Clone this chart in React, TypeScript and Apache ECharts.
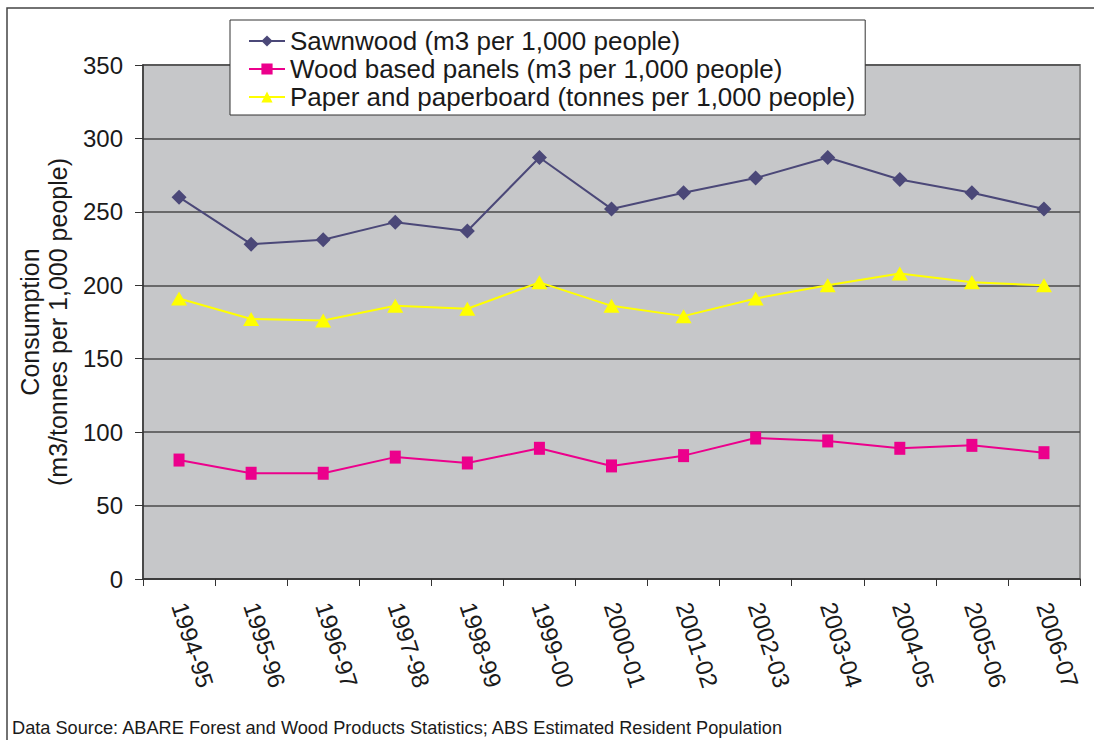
import React, { useEffect, useRef } from "react";
import * as echarts from "echarts";

const categories = [
  "1994-95", "1995-96", "1996-97", "1997-98", "1998-99", "1999-00", "2000-01",
  "2001-02", "2002-03", "2003-04", "2004-05", "2005-06", "2006-07",
];
const sawnwood = [260, 228, 231, 243, 237, 287, 252, 263, 273, 287, 272, 263, 252];
const panels = [81, 72, 72, 83, 79, 89, 77, 84, 96, 94, 89, 91, 86];
const paper = [191, 177, 176, 186, 184, 202, 186, 179, 191, 200, 208, 202, 200];
const yTicks = { min: 0, max: 350, interval: 50 };
const seriesNames = [
  "Sawnwood (m3 per 1,000 people)",
  "Wood based panels (m3 per 1,000 people)",
  "Paper and paperboard (tonnes per 1,000 people)",
];
const footer = "Data Source: ABARE Forest and Wood Products Statistics; ABS Estimated Resident Population";

const FONT = "'Liberation Sans', Arial, sans-serif";

export default function App() {
  const ref = useRef<HTMLDivElement>(null);
  useEffect(() => {
    document.body.style.margin = "0";
    const chart = echarts.init(ref.current!, null, { renderer: "svg" });
    chart.setOption({
      animation: false,
      textStyle: { fontFamily: FONT, color: "#1a1a1a" },
      grid: {
        left: 143,
        right: 14,
        top: 65,
        bottom: 161,
        show: true,
        backgroundColor: "#c6c7c9",
        borderColor: "#8c8c8c",
        borderWidth: 2,
      },
      legend: {
        orient: "vertical",
        left: 230,
        top: 20,
        padding: [8, 10, 5, 18],
        itemGap: 2,
        itemWidth: 36,
        itemHeight: 14,
        backgroundColor: "#ffffff",
        borderColor: "#333333",
        borderWidth: 1,
        textStyle: { fontSize: 26, lineHeight: 26, color: "#1a1a1a", fontFamily: FONT },
        data: seriesNames,
      },
      xAxis: {
        type: "category",
        data: categories,
        boundaryGap: true,
        axisLine: { lineStyle: { color: "#333", width: 1.5 } },
        axisTick: { show: true, length: 7, alignWithLabel: false, lineStyle: { color: "#333" } },
        axisLabel: {
          rotate: -72,
          fontSize: 24,
          color: "#1a1a1a",
          margin: 24,
          interval: 0,
          fontFamily: FONT,
        },
      },
      yAxis: {
        type: "value",
        min: yTicks.min,
        max: yTicks.max,
        interval: yTicks.interval,
        name: "Consumption\n(m3/tonnes per 1,000 people)",
        nameLocation: "middle",
        nameGap: 71,
        nameTextStyle: { fontSize: 25, lineHeight: 28, color: "#1a1a1a", fontFamily: FONT },
        axisLine: { show: true, lineStyle: { color: "#333", width: 1.5 } },
        axisTick: { show: true, length: 8, lineStyle: { color: "#333" } },
        axisLabel: { fontSize: 24, color: "#1a1a1a", margin: 20, fontFamily: FONT },
        splitLine: { show: true, lineStyle: { color: "#4a4a4a", width: 1.5 } },
      },
      series: [
        {
          name: seriesNames[0],
          type: "line",
          data: sawnwood,
          symbol: "diamond",
          symbolSize: 15,
          lineStyle: { color: "#4b4878", width: 2 },
          itemStyle: { color: "#4b4878" },
        },
        {
          name: seriesNames[1],
          type: "line",
          data: panels,
          symbol: "rect",
          symbolSize: [11, 13],
          lineStyle: { color: "#ec008c", width: 2 },
          itemStyle: { color: "#ec008c" },
        },
        {
          name: seriesNames[2],
          type: "line",
          data: paper,
          symbol: "triangle",
          symbolSize: [16, 14],
          lineStyle: { color: "#ffff00", width: 2 },
          itemStyle: { color: "#ffff00" },
        },
      ],
      graphic: [
        {
          type: "rect",
          shape: { x: 7, y: 8, width: 1300, height: 1000 },
          style: { fill: "none", stroke: "#444", lineWidth: 1.5 },
          silent: true,
        },
        {
          type: "text",
          left: 12,
          top: 719,
          style: { text: footer, fontSize: 18.2, fontFamily: FONT, fill: "#1a1a1a" },
        },
      ],
    });
    return () => chart.dispose();
  }, []);
  return <div ref={ref} style={{ width: 1094, height: 740 }} />;
}
